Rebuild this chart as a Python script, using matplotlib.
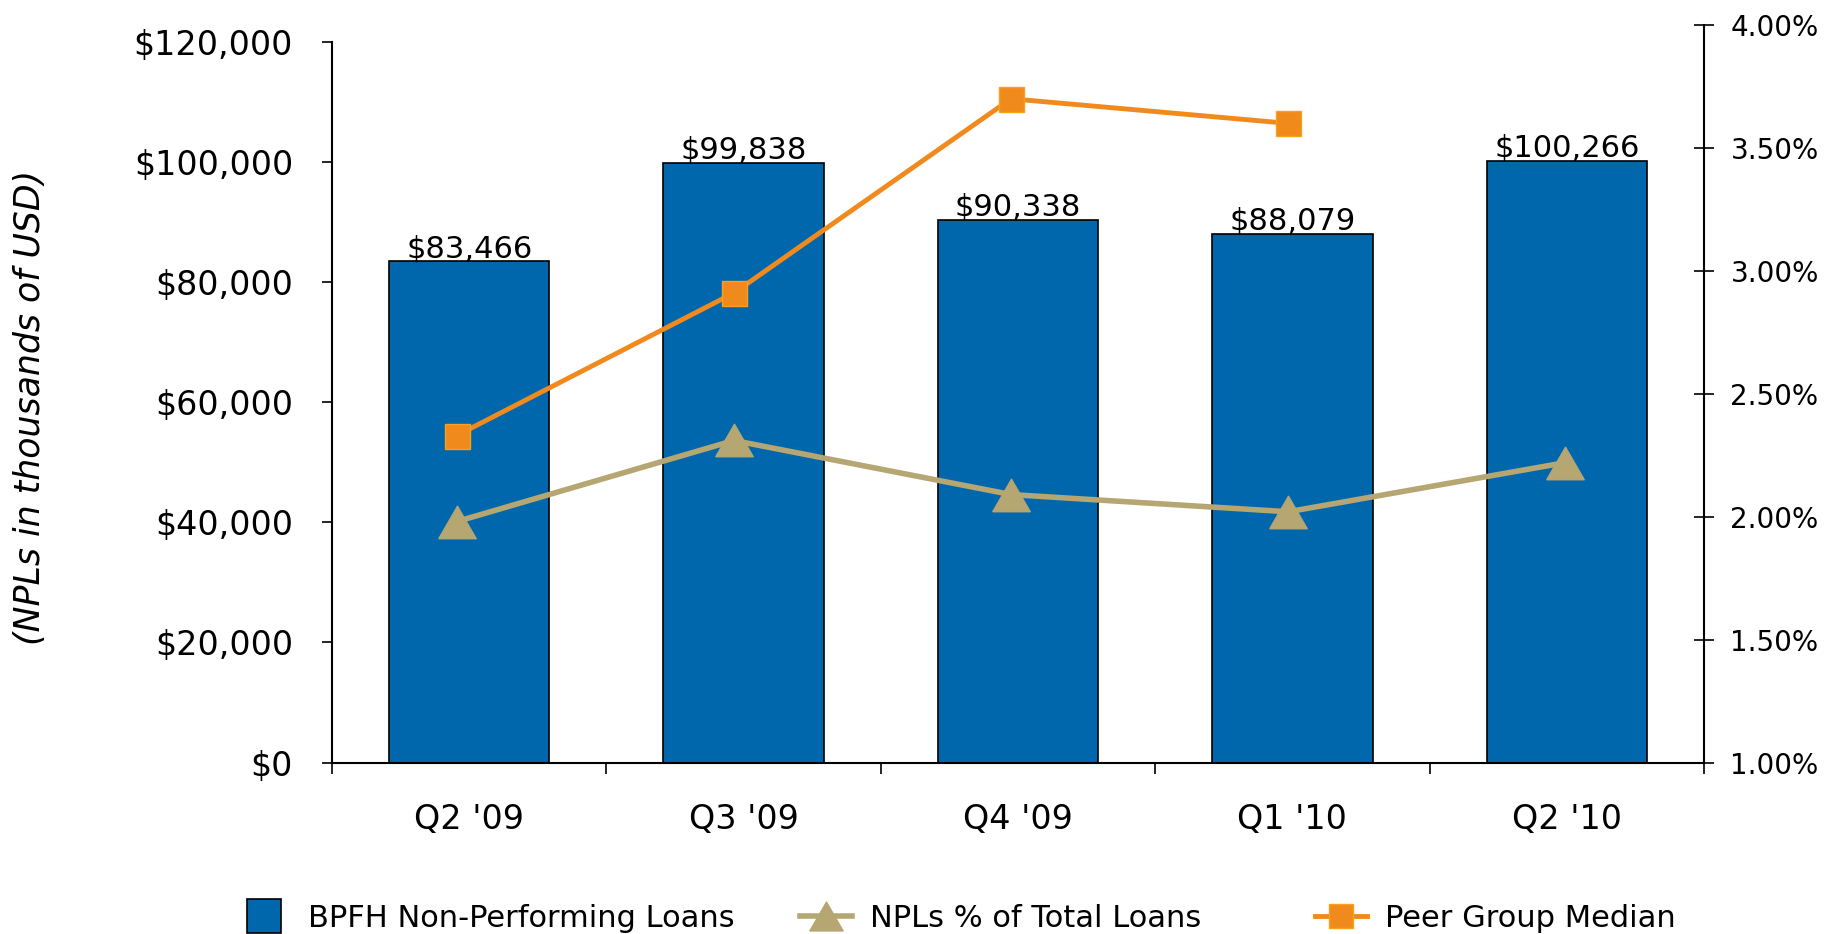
import numpy as np
import matplotlib
matplotlib.use("Agg")
import matplotlib.pyplot as plt
from matplotlib.lines import Line2D

plt.rcParams['font.family'] = ['DejaVu Sans']

quarters = ["Q2 '09", "Q3 '09", "Q4 '09", "Q1 '10", "Q2 '10"]
npl_loans = [83466, 99838, 90338, 88079, 100266]
npl_pct = [1.98, 2.31, 2.09, 2.02, 2.22]
peer_median = [2.33, 2.91, 3.70, 3.60]

BLUE = '#0067AC'
TAN = '#B5A672'
ORANGE = '#F08A1D'
# equilateral triangle, centred on its bounding box
TRI = [(-1, -0.866), (1, -0.866), (0, 0.866), (-1, -0.866)]

fig = plt.figure(figsize=(18.25, 9.34), dpi=100)

# bars on the left axis
ax = fig.add_axes([0.1819, 0.1836, 0.7518, 0.7714])
x = np.arange(len(quarters))
ax.bar(x, npl_loans, width=0.585, color=BLUE, edgecolor='black', linewidth=1.2, zorder=2)
for xi, v in zip(x, npl_loans):
    ax.annotate(f'${v:,}', (xi, v), xytext=(0, 3), textcoords='offset points',
                ha='center', va='baseline', fontsize=22)

ax.set_xlim(-0.5, len(quarters) - 0.5)
ax.set_ylim(0, 120000)
ax.set_yticks(np.arange(0, 120001, 20000))
ax.yaxis.set_major_formatter(matplotlib.ticker.FuncFormatter(lambda v, p: f'${v:,.0f}'))
ax.tick_params(axis='y', direction='out', length=7, width=1.2, pad=21, labelsize=24)
ax.set_xticks(x, quarters)
ax.tick_params(axis='x', which='major', length=0, pad=29, labelsize=24)
ax.set_xticks(np.arange(-0.5, len(quarters)), minor=True)
ax.tick_params(axis='x', which='minor', direction='out', length=8, width=1.2)
for s in ['top', 'right']:
    ax.spines[s].set_visible(False)
for s in ['left', 'bottom']:
    ax.spines[s].set_linewidth(1.5)

# lines on the right axis (taller than the left one)
ax2 = fig.add_axes([0.1819, 0.1836, 0.7518, 0.7896])
ax2.patch.set_visible(False)
ax2.set_xlim(-0.45, 4.5)
ax2.set_ylim(1, 4)
ax2.plot(x, npl_pct, color=TAN, lw=4, marker=TRI, ms=27, mec=TAN, zorder=3)
ax2.plot(x[:len(peer_median)], peer_median, color=ORANGE, lw=3.5, marker='s', ms=18,
         mec='#F7A11A', mew=1, zorder=4)
ax2.set_yticks(np.arange(1, 4.01, 0.5))
ax2.yaxis.set_major_formatter(matplotlib.ticker.FuncFormatter(lambda v, p: f'{v:.2f}%'))
ax2.yaxis.tick_right()
ax2.tick_params(axis='y', direction='inout', length=14, width=1.2, pad=12, labelsize=20)
ax2.set_xticks([])
for s in ['top', 'left', 'bottom']:
    ax2.spines[s].set_visible(False)
ax2.spines['right'].set_linewidth(1.5)

fig.text(0.0164, 0.5637, '(NPLs in thousands of USD)', rotation=90, ha='center',
         va='center', fontsize=25, style='italic')

# legend, one entry per block
handles = [
    Line2D([], [], ls='none', marker='s', ms=24, mfc=BLUE, mec='black', mew=1.2),
    Line2D([], [], color=TAN, lw=4, marker=TRI, ms=24),
    Line2D([], [], color=ORANGE, lw=3.5, marker='s', ms=17, mec='#F7A11A', mew=1),
]
labels = ['BPFH Non-Performing Loans', 'NPLs % of Total Loans', 'Peer Group Median']
for h, lab, lx in zip(handles, labels, [0.1304, 0.4384, 0.7205]):
    fig.legend([h], [lab], loc='center left', bbox_to_anchor=(lx, 0.017), frameon=False,
               fontsize=22, handlelength=1.7, handletextpad=0.6, borderpad=0,
               borderaxespad=0)

fig.savefig('out.png', dpi=100)
plt.close(fig)
